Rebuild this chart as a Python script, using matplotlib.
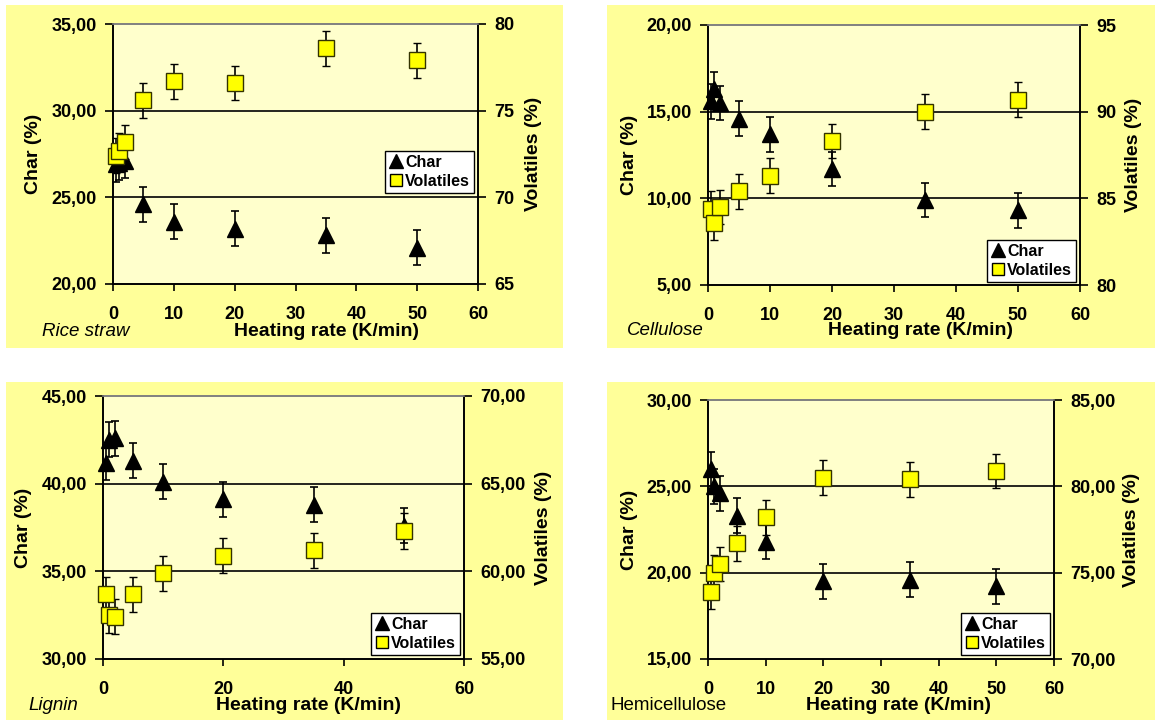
import matplotlib
matplotlib.use('Agg')
import matplotlib.pyplot as plt
from matplotlib.patches import Rectangle
from matplotlib.lines import Line2D
from matplotlib.ticker import FuncFormatter, MultipleLocator

plt.rcParams['font.family'] = ['Liberation Sans', 'DejaVu Sans']
plt.rcParams['font.weight'] = 'bold'

# heating rates (K/min)
rate = [0.5, 1, 2, 5, 10, 20, 35, 50]

# yields (%) per feedstock
rice_char = [26.9, 27.0, 27.1, 24.6, 23.6, 23.2, 22.8, 22.1]
rice_vol = [72.4, 72.7, 73.2, 75.6, 76.7, 76.6, 78.6, 77.9]

cell_char = [15.6, 16.3, 15.5, 14.6, 13.7, 11.7, 9.9, 9.3]
cell_vol = [84.4, 83.6, 84.5, 85.4, 86.3, 88.3, 90.0, 90.7]

lign_char = [41.2, 42.5, 42.6, 41.3, 40.1, 39.1, 38.8, 37.6]
lign_vol = [58.7, 57.5, 57.4, 58.7, 59.9, 60.9, 61.2, 62.3]

hemi_char = [26.0, 25.0, 24.6, 23.3, 21.8, 19.5, 19.6, 19.2]
hemi_vol = [73.9, 75.0, 75.5, 76.7, 78.2, 80.5, 80.4, 80.9]

char_err = 1.0
vol_err = 1.0

W, H = 1155, 720
BG = '#FFFF99'
PLOT_BG = '#FFFFCC'
SQUARE = '#FFFF00'

fig = plt.figure(figsize=(W / 100, H / 100), dpi=100)


def fx(x):
    return x / W


def fy(y):
    return 1 - y / H


def comma2(v, pos):
    return f'{v:.2f}'.replace('.', ',')


def whole(v, pos):
    return f'{v:.0f}'


panels = [
    dict(name='Rice straw', italic=True, char=rice_char, vol=rice_vol,
         bg=(6, 5, 563, 348), box=(113, 24, 478, 284),
         left=(20, 35), right=(65, 80), xstep=10, rfmt=whole,
         name_xy=(42, 332), xlab_xy=(327, 332),
         ylab_x=(34, 533), legend=(474, 193)),
    dict(name='Cellulose', italic=True, char=cell_char, vol=cell_vol,
         bg=(607, 5, 1155, 348), box=(708, 25, 1080, 285),
         left=(5, 20), right=(80, 95), xstep=10, rfmt=whole,
         name_xy=(627, 331), xlab_xy=(920, 331),
         ylab_x=(629, 1134), legend=(1076, 282)),
    dict(name='Lignin', italic=True, char=lign_char, vol=lign_vol,
         bg=(6, 382, 563, 720), box=(103, 396, 464, 659),
         left=(30, 45), right=(55, 70), xstep=20, rfmt=comma2,
         name_xy=(28, 706), xlab_xy=(308, 706),
         ylab_x=(23, 544), legend=(460, 655)),
    dict(name='Hemicellulose', italic=False, char=hemi_char, vol=hemi_vol,
         bg=(607, 382, 1155, 720), box=(708, 400, 1054, 659),
         left=(15, 30), right=(70, 85), xstep=10, rfmt=comma2,
         name_xy=(610, 705), xlab_xy=(898, 705),
         ylab_x=(629, 1132), legend=(1050, 655)),
]

for p in panels:
    x0, y0, x1, y1 = p['bg']
    fig.add_artist(Rectangle((fx(x0), fy(y1)), fx(x1 - x0), (y1 - y0) / H,
                             transform=fig.transFigure, facecolor=BG,
                             edgecolor='none', zorder=0))

    bx0, by0, bx1, by1 = p['box']
    ax = fig.add_axes([fx(bx0), fy(by1), fx(bx1 - bx0), (by1 - by0) / H])
    ax.set_facecolor(PLOT_BG)
    ax2 = ax.twinx()

    ax.set_xlim(0, 60)
    ax.set_ylim(*p['left'])
    ax2.set_ylim(*p['right'])
    ax.xaxis.set_major_locator(MultipleLocator(p['xstep']))
    ax.yaxis.set_major_locator(MultipleLocator(5))
    ax2.yaxis.set_major_locator(MultipleLocator(5))
    ax.yaxis.set_major_formatter(FuncFormatter(comma2))
    ax2.yaxis.set_major_formatter(FuncFormatter(p['rfmt']))

    # interior horizontal gridlines only
    lo, hi = p['left']
    for v in range(lo + 5, hi, 5):
        ax.axhline(v, color='black', lw=1.2, zorder=1)

    for a in (ax, ax2):
        for side in ('left', 'right', 'bottom'):
            a.spines[side].set_color('black')
            a.spines[side].set_linewidth(1.2)
        a.spines['top'].set_color('#808080')
        a.spines['top'].set_linewidth(1.2)

    ax.tick_params(axis='x', direction='out', length=5, width=1.2,
                   labelsize=13, pad=10.5)
    ax.tick_params(axis='y', direction='out', length=6, width=1.2,
                   labelsize=13, pad=5.5)
    ax2.tick_params(axis='y', direction='out', length=6, width=1.2,
                    labelsize=13, pad=6)

    ax.errorbar(rate, p['char'], yerr=char_err, fmt='^', ms=12,
                color='black', ecolor='black', elinewidth=1.2,
                capsize=3, capthick=1.2, clip_on=False, zorder=3)
    ax2.errorbar(rate, p['vol'], yerr=vol_err, fmt='s', ms=11.5,
                 mfc=SQUARE, mec='#333300', mew=1.0, ecolor='black',
                 elinewidth=1.2, capsize=3, capthick=1.2, clip_on=False,
                 zorder=4)

    handles = [
        Line2D([], [], ls='none', marker='^', ms=9.5, color='black'),
        Line2D([], [], ls='none', marker='s', ms=9, mfc=SQUARE,
               mec='black', mew=1.0),
    ]
    lx, ly = p['legend']
    leg = ax2.legend(handles, ['Char', 'Volatiles'], loc='lower right',
                     bbox_to_anchor=(fx(lx), fy(ly)),
                     bbox_transform=fig.transFigure,
                     prop=dict(size=11.5, weight='bold'), frameon=True,
                     fancybox=False, framealpha=1, edgecolor='black',
                     handlelength=0.8, handletextpad=0.2, borderpad=0.25,
                     labelspacing=0.25, borderaxespad=0)
    leg.get_frame().set_linewidth(1.0)
    leg.set_zorder(10)

    # axis titles and sample name
    yc = fy((by0 + by1) / 2)
    fig.text(fx(p['ylab_x'][0]), yc, 'Char (%)', rotation=90, size=14,
             weight='bold', ha='center', va='center')
    fig.text(fx(p['ylab_x'][1]), yc, 'Volatiles (%)', rotation=90,
             size=14, weight='bold', ha='center', va='center')
    fig.text(fx(p['xlab_xy'][0]), fy(p['xlab_xy'][1]),
             'Heating rate (K/min)', size=14, weight='bold',
             ha='center', va='center')
    fig.text(fx(p['name_xy'][0]), fy(p['name_xy'][1]), p['name'],
             size=13.5, weight='normal',
             style='italic' if p['italic'] else 'normal',
             ha='left', va='center')

fig.savefig('out.png', dpi=100, facecolor='white')
